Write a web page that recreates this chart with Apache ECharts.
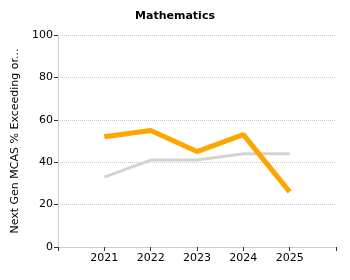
<!DOCTYPE html>
<html><head><meta charset="utf-8">
<script src="https://cdn.jsdelivr.net/npm/echarts@6/dist/echarts.min.js"></script>
<style>html,body{margin:0;padding:0;background:#fff}#c{width:350px;height:280px}</style>
</head><body><div id="c"></div>
<script>
var categories = ['', '2021', '2022', '2023', '2024', '2025', ''];
var schoolValues = [null, 52, 55, 45, 53, 26, null];
var stateValues = [null, 33, 41, 41, 44, 44, null];
var yTicks = [0, 20, 40, 60, 80, 100];
var font = 'Verdana, "DejaVu Sans", sans-serif';
var chart = echarts.init(document.getElementById('c'));
chart.setOption({
  animation: false,
  title: {text: 'Mathematics', left: 'center', top: 6,
    textStyle: {fontFamily: font, fontSize: 11, fontWeight: 'bold', color: '#000'}},
  grid: {left: 58, right: 14, top: 35, bottom: 33},
  xAxis: {type: 'category', data: categories, boundaryGap: false,
    axisLine: {lineStyle: {color: '#ccc'}},
    axisTick: {length: 4, lineStyle: {color: '#333'}},
    axisLabel: {fontFamily: font, fontSize: 11, color: '#000', margin: 6},
    splitLine: {show: false}},
  yAxis: {type: 'value', min: yTicks[0], max: yTicks[yTicks.length-1], interval: 20,
    name: 'Next Gen MCAS % Exceeding or...', nameLocation: 'middle', nameGap: 28,
    nameTextStyle: {fontFamily: font, fontSize: 11, color: '#000'},
    axisLine: {show: true, lineStyle: {color: '#ccc'}},
    axisTick: {show: true, length: 4, lineStyle: {color: '#333'}},
    axisLabel: {fontFamily: font, fontSize: 11, color: '#000', margin: 5},
    splitLine: {lineStyle: {color: '#c8c8c8', type: 'dotted'}}},
  series: [
    {type: 'line', data: stateValues, symbol: 'none',
      lineStyle: {color: '#d3d3d3', width: 3}, z: 2},
    {type: 'line', data: schoolValues, symbol: 'none',
      lineStyle: {color: '#ffa500', width: 5}, z: 3}
  ]
});
</script></body></html>
